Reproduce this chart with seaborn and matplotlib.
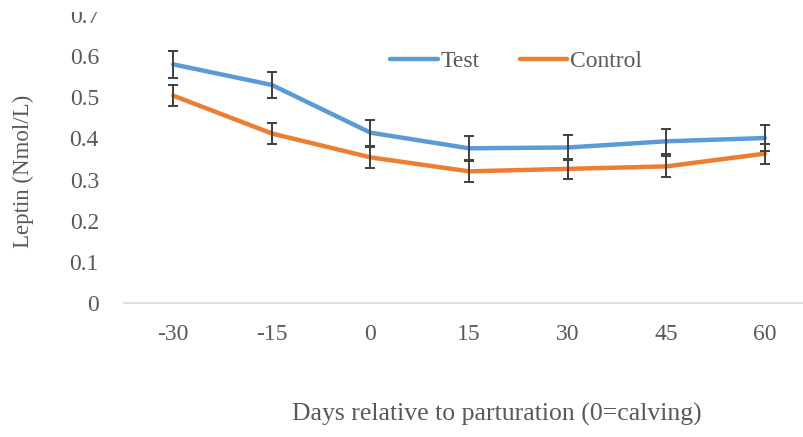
import matplotlib
matplotlib.use("Agg")
import matplotlib.pyplot as plt
from matplotlib.transforms import Bbox
import seaborn as sns
import pandas as pd
import numpy as np

days = ["-30", "-15", "0", "15", "30", "45", "60"]
test_mean = [0.580, 0.530, 0.414, 0.376, 0.378, 0.393, 0.401]
test_err = [0.032, 0.031, 0.032, 0.031, 0.031, 0.031, 0.031]
control_mean = [0.504, 0.412, 0.354, 0.320, 0.326, 0.332, 0.363]
control_err = [0.025, 0.026, 0.025, 0.027, 0.024, 0.026, 0.024]
yticks = [0, 0.1, 0.2, 0.3, 0.4, 0.5, 0.6, 0.7]
ytick_labels = ["0", "0.1", "0.2", "0.3", "0.4", "0.5", "0.6", "0.7"]

sns.set_theme(style="white")
plt.rcParams["font.family"] = ["Liberation Serif", "DejaVu Serif"]

text_color = "#595959"
blue = "#5B9BD5"
orange = "#ED7D31"

pos = np.arange(len(days))
df = pd.DataFrame({
    "pos": np.concatenate([pos, pos]),
    "value": test_mean + control_mean,
    "group": ["Test"] * len(days) + ["Control"] * len(days),
})

W, H = 804, 437
fig = plt.figure(figsize=(W / 100, H / 100), dpi=100)
ax = fig.add_axes([124 / W, (H - 303) / H, 690 / W, 288 / H])

sns.lineplot(data=df, x="pos", y="value", hue="group",
             palette={"Test": blue, "Control": orange},
             linewidth=3.2, ax=ax, legend=True)

for mean, err in ((test_mean, test_err), (control_mean, control_err)):
    ax.errorbar(pos, mean, yerr=err, fmt="none", ecolor="#3f3f3f",
                elinewidth=1.4, capsize=3.3, capthick=1.4, zorder=5)

ax.set_xlim(-0.5, len(days) - 0.5)
ax.set_ylim(0, 0.7)
ax.set_xticks(pos)
ax.set_xticklabels(days)
ax.set_yticks(yticks)
ax.set_yticklabels(ytick_labels)
ax.tick_params(axis="both", length=0, labelsize=17, colors=text_color)
ax.tick_params(axis="x", pad=15)
ax.tick_params(axis="y", pad=18)

# the chart area starts a little below the top edge of the image
visible = Bbox.from_extents(0, 0, W, H - 12)
for lbl in ax.get_yticklabels():
    lbl.set_clip_box(visible)
    lbl.set_clip_on(True)

for side in ("top", "right", "left"):
    ax.spines[side].set_visible(False)
ax.spines["bottom"].set_color("#D9D9D9")
ax.spines["bottom"].set_linewidth(1.2)

ax.set_xlabel("")
ax.set_ylabel("")
fig.text(497 / W, 1 - 414 / H, "Days relative to parturation (0=calving)",
         ha="center", va="center", fontsize=18.5, color=text_color)
fig.text(23 / W, 1 - 171 / H, "Leptin (Nmol/L)", rotation=90,
         ha="center", va="center", fontsize=16.5, color=text_color)

leg = ax.legend(loc="center left", bbox_to_anchor=(390 / W, 1 - 61 / H),
                bbox_transform=fig.transFigure, ncol=2, frameon=False,
                fontsize=17, handlelength=2.03, handletextpad=0.1,
                columnspacing=1.7, borderpad=0, borderaxespad=0)
for t in leg.get_texts():
    t.set_color(text_color)

fig.savefig("out.png", dpi=100)
